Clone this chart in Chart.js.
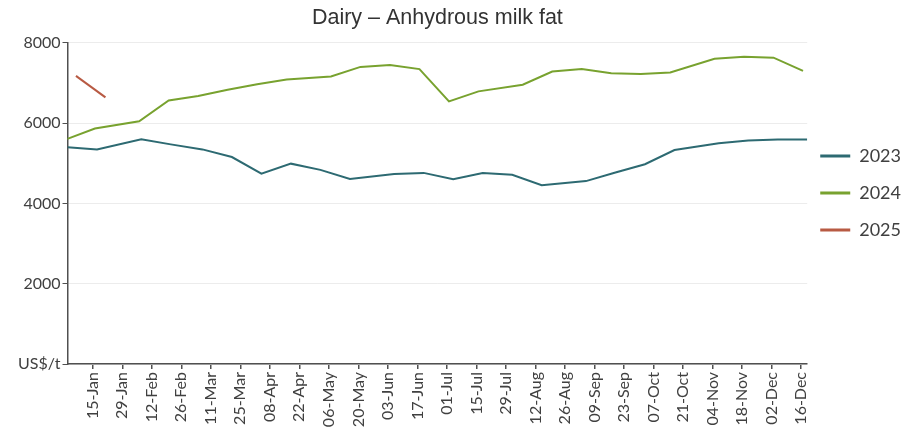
<!DOCTYPE html>
<html>
<head>
<meta charset="utf-8">
<script src="https://cdn.jsdelivr.net/npm/chart.js@4.4.1/dist/chart.umd.min.js"></script>
<style>
  html, body { margin: 0; background: #fff; }
  #wrap { width: 922px; height: 430px; }
</style>
</head>
<body>
<div id="wrap"><canvas id="chart-canvas"></canvas></div>
<script>
// GDT auction dates (month-day) and prices, US$/t
const dates2023 = ['01-03','01-17','02-07','02-21','03-07','03-21','04-04','04-18','05-02','05-16','06-06','06-20',
                   '07-04','07-18','08-01','08-15','09-05','09-19','10-03','10-17','11-07','11-21','12-05','12-19'];
const values2023 = [5400, 5345, 5600, 5470, 5345, 5155, 4740, 4990, 4835, 4610, 4730, 4760,
                    4600, 4755, 4715, 4455, 4555, 4770, 4975, 5330, 5500, 5565, 5590, 5590];

const dates2024 = ['01-02','01-16','02-06','02-20','03-05','03-19','04-02','04-16','05-07','05-21','06-04','06-18',
                   '07-02','07-16','08-06','08-20','09-03','09-17','10-01','10-15','11-05','11-19','12-03','12-17'];
const values2024 = [5590, 5865, 6045, 6565, 6675, 6830, 6970, 7085, 7160, 7400, 7445, 7345,
                    6540, 6790, 6955, 7285, 7345, 7240, 7225, 7260, 7600, 7655, 7630, 7300];

const dates2025 = ['01-07','01-21'];
const values2025 = [7175, 6640];

const tickLabels = ['15-Jan','29-Jan','12-Feb','26-Feb','11-Mar','25-Mar','08-Apr','22-Apr','06-May','20-May',
                    '03-Jun','17-Jun','01-Jul','15-Jul','29-Jul','12-Aug','26-Aug','09-Sep','23-Sep','07-Oct',
                    '21-Oct','04-Nov','18-Nov','02-Dec','16-Dec'];
const yTicks = [0, 2000, 4000, 6000, 8000];

const MONTHS = ['Jan','Feb','Mar','Apr','May','Jun','Jul','Aug','Sep','Oct','Nov','Dec'];

// day of year on a common (2024) calendar
function dayOf(month, day) {
    return (Date.UTC(2024, month - 1, day) - Date.UTC(2024, 0, 1)) / 864e5 + 1;
}
function points(dates, values) {
    return dates.map((d, i) => {
        const [m, dd] = d.split('-').map(Number);
        return { x: dayOf(m, dd), y: values[i] };
    });
}
const tickDays = tickLabels.map(l => {
    const [dd, mon] = l.split('-');
    return dayOf(MONTHS.indexOf(mon) + 1, Number(dd));
});

const TEAL = '#2d6a72';
const GREEN = '#78a22f';
const RED = '#b85a43';
const AXIS = '#505050';
const TEXT = '#404040';
const FONT = 'Lato, "Liberation Sans", sans-serif';

// centre the title over the plot and lift / nudge the legend like the original
const placeBoxes = {
    id: 'placeBoxes',
    afterLayout(chart) {
        const t = chart.titleBlock;
        if (t) {
            t.left = chart.chartArea.left;
            t.right = chart.chartArea.right;
        }
        const lg = chart.legend;
        if (lg) {
            lg.left -= 6;
            lg.right -= 6;
            lg.bottom -= 44;
        }
    }
};

document.addEventListener('DOMContentLoaded', function() {
    const ctx = document.getElementById('chart-canvas');
    const line = (label, data, color) => ({
        label: label,
        data: data,
        borderColor: color,
        backgroundColor: color,
        borderWidth: 2,
        pointRadius: 0,
        tension: 0
    });

    new Chart(ctx.getContext('2d'), {
        type: 'line',
        data: {
            datasets: [
                line('2023', points(dates2023, values2023), TEAL),
                line('2024', points(dates2024, values2024), GREEN),
                line('2025', points(dates2025, values2025), RED)
            ]
        },
        plugins: [placeBoxes],
        options: {
            responsive: true,
            maintainAspectRatio: false,
            animation: false,
            layout: { padding: { left: 16, right: 5, top: 0, bottom: 0 } },
            plugins: {
                title: {
                    display: true,
                    text: 'Dairy – Anhydrous milk fat',
                    color: '#333',
                    font: { family: '"Liberation Sans", Arial, sans-serif', size: 21.5, weight: 'normal' },
                    padding: { top: 5, bottom: 12 }
                },
                legend: {
                    position: 'right',
                    labels: {
                        boxWidth: 30,
                        boxHeight: 3,
                        padding: 19,
                        color: TEXT,
                        font: { family: FONT, size: 18 },
                        // thin line swatches, no outline
                        generateLabels: chart => Chart.defaults.plugins.legend.labels.generateLabels(chart)
                            .map(l => Object.assign(l, { lineWidth: 0 }))
                    }
                },
                tooltip: { enabled: false }
            },
            scales: {
                x: {
                    type: 'linear',
                    min: 3,
                    max: 354,
                    afterBuildTicks: s => { s.ticks = tickDays.map(v => ({ value: v })); },
                    afterFit: s => { s.height = 66; },
                    ticks: {
                        autoSkip: false,
                        minRotation: 90,
                        maxRotation: 90,
                        padding: 3,
                        color: TEXT,
                        font: { family: FONT, size: 16 },
                        callback: (v, i) => tickLabels[i]
                    },
                    grid: { drawOnChartArea: false, tickLength: 5, color: AXIS, lineWidth: 1.5 },
                    border: { color: AXIS, width: 1.5 }
                },
                y: {
                    min: 0,
                    max: 8000,
                    afterBuildTicks: s => { s.ticks = yTicks.map(v => ({ value: v })); },
                    ticks: {
                        padding: 2,
                        color: TEXT,
                        font: { family: FONT, size: 16 },
                        callback: v => v === 0 ? 'US$/t' : v
                    },
                    grid: { color: '#ececec', lineWidth: 1, tickColor: AXIS, tickLength: 5 },
                    border: { color: AXIS, width: 1.5 }
                }
            }
        }
    });
});
</script>
</body>
</html>
